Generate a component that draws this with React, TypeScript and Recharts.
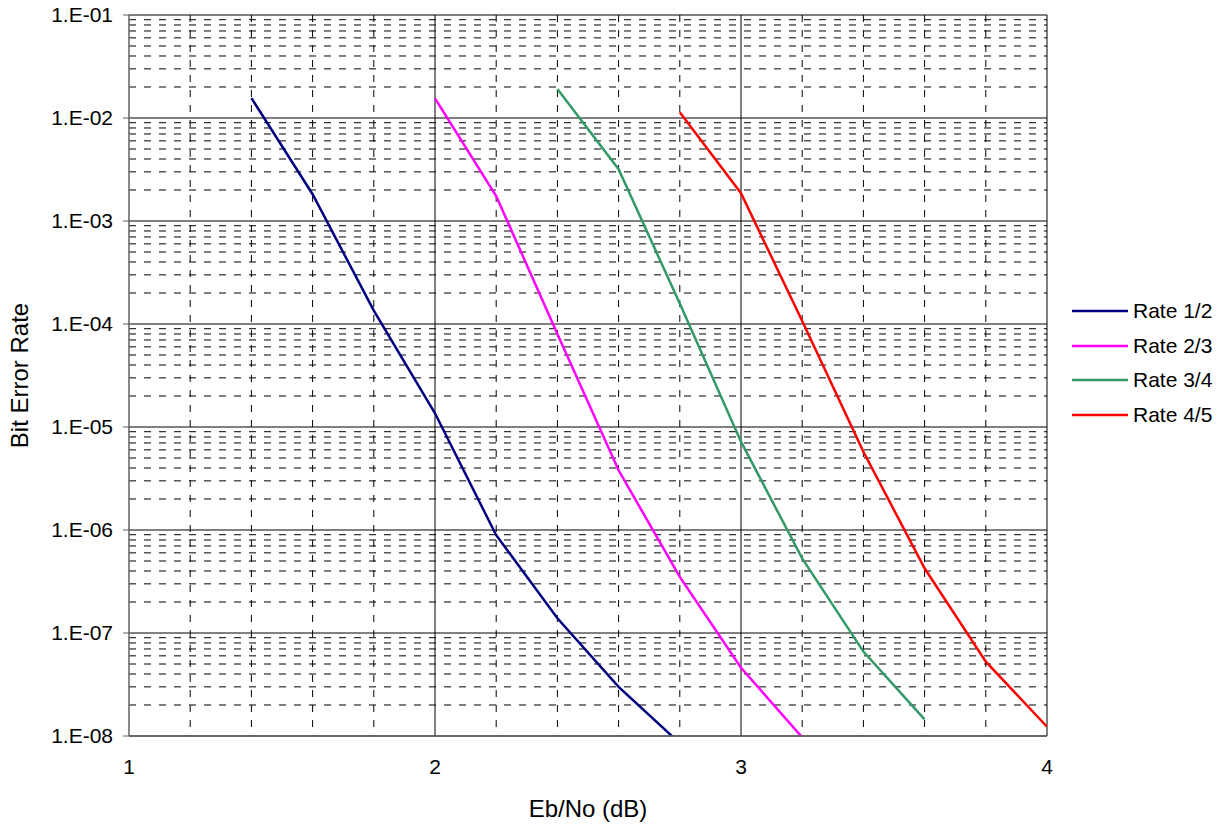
import React from 'react';
import { LineChart, Line, XAxis, YAxis, CartesianGrid, Legend } from 'recharts';

// Eb/No (dB) values per series
const RATE_12_X = [1.4, 1.6, 1.8, 2.0, 2.2, 2.4, 2.6, 2.8];
const RATE_12_BER = [1.56e-2, 1.82e-3, 1.35e-4, 1.36e-5, 8.9e-7, 1.39e-7, 3.0e-8, 8.5e-9];

const RATE_23_X = [2.0, 2.2, 2.4, 2.6, 2.8, 3.0, 3.2];
const RATE_23_BER = [1.55e-2, 1.75e-3, 8.0e-5, 3.8e-6, 3.5e-7, 4.6e-8, 9.7e-9];

const RATE_34_X = [2.4, 2.6, 2.8, 3.0, 3.2, 3.4, 3.6];
const RATE_34_BER = [1.91e-2, 3.18e-3, 1.58e-4, 7.2e-6, 5.3e-7, 6.6e-8, 1.45e-8];

const RATE_45_X = [2.8, 3.0, 3.2, 3.4, 3.6, 3.8, 4.0];
const RATE_45_BER = [1.14e-2, 1.86e-3, 1.07e-4, 5.75e-6, 4.25e-7, 5.27e-8, 1.23e-8];

const SERIES_NAMES = ['Rate 1/2', 'Rate 2/3', 'Rate 3/4', 'Rate 4/5'];
const SERIES_COLORS = ['#000080', '#FF00FF', '#339966', '#FF0000'];

const X_TICKS = [1, 2, 3, 4];
const X_MINOR = [1.2, 1.4, 1.6, 1.8, 2.2, 2.4, 2.6, 2.8, 3.2, 3.4, 3.6, 3.8];
const Y_TICKS = [1e-8, 1e-7, 1e-6, 1e-5, 1e-4, 1e-3, 1e-2, 1e-1];
const Y_TICK_LABELS = ['1.E-08', '1.E-07', '1.E-06', '1.E-05', '1.E-04', '1.E-03', '1.E-02', '1.E-01'];
const MINOR_MULTIPLIERS = [2, 3, 4, 5, 6, 7, 8, 9];

const Y_MINOR: number[] = [];
Y_TICKS.slice(0, -1).forEach((d) => MINOR_MULTIPLIERS.forEach((m) => Y_MINOR.push(m * d)));

const toPoints = (xs: number[], ys: number[]) => xs.map((x, i) => ({ x, y: ys[i] }));
const SERIES = [
  toPoints(RATE_12_X, RATE_12_BER),
  toPoints(RATE_23_X, RATE_23_BER),
  toPoints(RATE_34_X, RATE_34_BER),
  toPoints(RATE_45_X, RATE_45_BER),
];

const FONT = '"Liberation Sans", Arial, sans-serif';

const yFmt = (v: number) => {
  let best = 0;
  let bd = Infinity;
  Y_TICKS.forEach((t, i) => {
    const d = Math.abs(Math.log10(t) - Math.log10(v));
    if (d < bd) { bd = d; best = i; }
  });
  return Y_TICK_LABELS[best];
};

const renderLegend = (props: any) => {
  const payload = props.payload || [];
  return (
    <div style={{ fontFamily: FONT, fontSize: 21, color: '#000' }}>
      {payload.map((p: any, i: number) => (
        <div key={i} style={{ display: 'flex', alignItems: 'center', height: 34.5 }}>
          <svg width={56} height={6} style={{ display: 'block' }}>
            <line x1={0} y1={3} x2={56} y2={3} stroke={p.color} strokeWidth={2.5} />
          </svg>
          <span style={{ marginLeft: 5, whiteSpace: 'nowrap' }}>{p.value}</span>
        </div>
      ))}
    </div>
  );
};

export default function App() {
  return (
    <div style={{ width: 1226, height: 826, margin: '-8px 0 0 -8px', fontFamily: FONT, position: 'relative' }}>
      <LineChart
        width={1226}
        height={826}
        margin={{ top: 15, right: 179, bottom: 0, left: 0 }}
        style={{ fontFamily: FONT }}
      >
        <CartesianGrid
          horizontalValues={Y_MINOR}
          verticalValues={X_MINOR}
          stroke="#000"
          strokeDasharray="7 8"
        />
        <CartesianGrid
          horizontalValues={Y_TICKS}
          verticalValues={[2, 3, 4]}
          stroke="#000"
        />
        <XAxis
          type="number"
          dataKey="x"
          domain={[1, 4]}
          ticks={X_TICKS}
          interval={0}
          allowDataOverflow
          tickLine={false}
          tickSize={0}
          tickMargin={23}
          height={90}
          axisLine={{ stroke: '#606060', strokeWidth: 1.5 }}
          tick={{ fontSize: 21, fill: '#000', fontFamily: FONT }}
          label={{ value: 'Eb/No (dB)', position: 'insideBottom', offset: 9, fontSize: 24, fill: '#000', fontFamily: FONT }}
        />
        <YAxis
          type="number"
          scale="log"
          domain={[1e-8, 1e-1]}
          ticks={Y_TICKS}
          interval={0}
          allowDataOverflow
          tickFormatter={yFmt}
          width={129}
          tickSize={6}
          tickMargin={10}
          axisLine={{ stroke: '#606060', strokeWidth: 1.5 }}
          tickLine={{ stroke: '#606060' }}
          tick={{ fontSize: 21, fill: '#000', fontFamily: FONT }}
          label={{ value: 'Bit Error Rate', angle: -90, position: 'insideLeft', offset: 19, fontSize: 24, fill: '#000', fontFamily: FONT, style: { textAnchor: 'middle' } }}
        />
        {SERIES.map((data, i) => (
          <Line
            key={SERIES_NAMES[i]}
            data={data}
            dataKey="y"
            name={SERIES_NAMES[i]}
            stroke={SERIES_COLORS[i]}
            strokeWidth={2.5}
            dot={false}
            activeDot={false}
            legendType="plainline"
            isAnimationActive={false}
          />
        ))}
        <Legend
          layout="vertical"
          align="center"
          verticalAlign="middle"
          content={renderLegend}
          wrapperStyle={{ position: 'absolute', left: 1072, top: 293.75, width: 150, height: 140 }}
        />
      </LineChart>
    </div>
  );
}
